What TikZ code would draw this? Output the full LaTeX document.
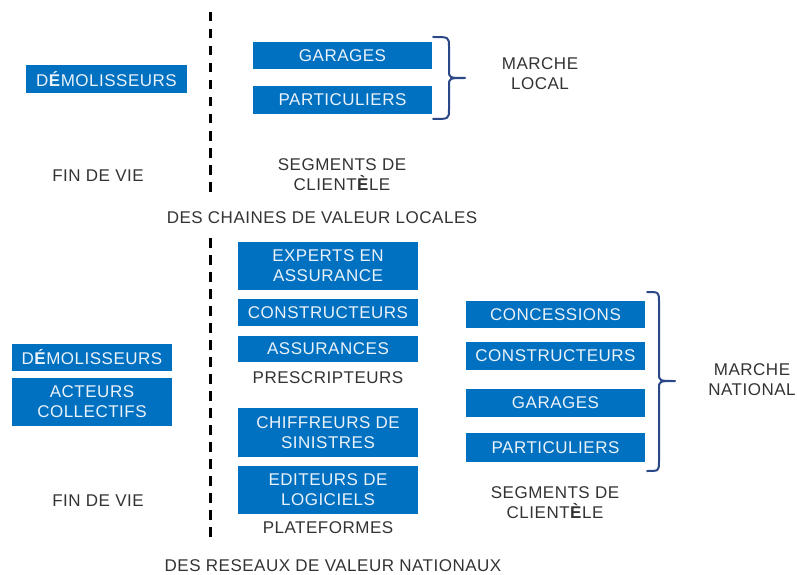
\documentclass[tikz,border=0pt]{standalone}
\usepackage{fontspec}
\setmainfont[LetterSpace=3]{Liberation Sans}
\definecolor{bleu}{HTML}{0070C0}
\definecolor{accolade}{HTML}{2B4787}
\definecolor{gristexte}{HTML}{333333}
\definecolor{blanc}{HTML}{EAF2FA}

\begin{document}
\begin{tikzpicture}[x=1pt,y=-1pt,line cap=round,line join=round,
  every node/.style={font=\fontsize{17}{20}\selectfont,align=center,text=gristexte,inner sep=0pt},
  bloc/.style={fill=bleu,text=blanc,minimum width=180pt,minimum height=27pt},
  accol/.style={draw=accolade,line width=2pt},
  pointille/.style={line width=3pt,line cap=butt,dash pattern=on 9.5pt off 7.5pt}]
  \useasboundingbox (0,0) rectangle (797,575);
  % separations
  \coordinate (S1) at (210.5,12);
  \coordinate (S2) at (210.5,198);
  \coordinate (S3) at (210.5,238);
  \coordinate (S4) at (210.5,542);
  \draw[pointille] (S1)--(S2) (S3)--(S4);
  % chaines locales
  \node[bloc,minimum width=161pt,minimum height=28pt] (demoL) at (106.5,79) {D\textbf{É}MOLISSEURS};
  \node[bloc,minimum width=179pt] (garL) at (342.5,55.5) {GARAGES};
  \node[bloc,minimum width=179pt,minimum height=28pt] (partL) at (342.5,100) {PARTICULIERS};
  \coordinate (AL1) at (433,37);
  \coordinate (ALp) at (465,78);
  \coordinate (AL2) at (433,119);
  \draw[accol] (AL1) .. controls (449,37) .. (449,47) -- (449,70)
    .. controls (449,78) .. (ALp) .. controls (449,78) .. (449,86)
    -- (449,109) .. controls (449,119) .. (AL2);
  \node (marcheL) at (540,74) {MARCHE\\LOCAL};
  \node (finL) at (98,176) {FIN DE VIE};
  \node (segL) at (342,174.5) {SEGMENTS DE\\CLIENT\textbf{È}LE};
  \node (titreL) at (322,218) {DES CHAINES DE VALEUR LOCALES};
  % reseaux nationaux
  \node[bloc,minimum width=160pt] (demoN) at (92,357.5) {D\textbf{É}MOLISSEURS};
  \node[bloc,minimum width=160pt,minimum height=48pt] (acteurs) at (92,402) {ACTEURS\\COLLECTIFS};
  \node (finN) at (98,501) {FIN DE VIE};
  \node[bloc,minimum height=48pt] (experts) at (328,265.5) {EXPERTS EN\\ASSURANCE};
  \node[bloc] (constP) at (328,312.5) {CONSTRUCTEURS};
  \node[bloc,minimum height=26pt] (assur) at (328,349) {ASSURANCES};
  \node (prescr) at (328,378) {PRESCRIPTEURS};
  \node[bloc,minimum height=49pt] (chiff) at (328,432.5) {CHIFFREURS DE\\SINISTRES};
  \node[bloc,minimum height=48pt] (edit) at (328,490) {EDITEURS DE\\LOGICIELS};
  \node (plat) at (328,528) {PLATEFORMES};
  \node[bloc,minimum width=179pt] (conc) at (555.5,314.5) {CONCESSIONS};
  \node[bloc,minimum width=179pt,minimum height=28pt] (constN) at (555.5,356) {CONSTRUCTEURS};
  \node[bloc,minimum width=179pt,minimum height=28pt] (garN) at (555.5,403) {GARAGES};
  \node[bloc,minimum width=179pt,minimum height=29pt] (partN) at (555.5,447.5) {PARTICULIERS};
  \coordinate (AN1) at (647,292);
  \coordinate (ANp) at (675,381);
  \coordinate (AN2) at (647,471);
  \draw[accol] (AN1) .. controls (659,292) .. (659,302) -- (659,373)
    .. controls (659,381) .. (ANp) .. controls (659,381) .. (659,389)
    -- (659,461) .. controls (659,471) .. (AN2);
  \node (marcheN) at (752,380) {MARCHE\\NATIONAL};
  \node (segN) at (555,503) {SEGMENTS DE\\CLIENT\textbf{È}LE};
  \node (titreN) at (333,566) {DES RESEAUX DE VALEUR NATIONAUX};
\end{tikzpicture}
\end{document}
